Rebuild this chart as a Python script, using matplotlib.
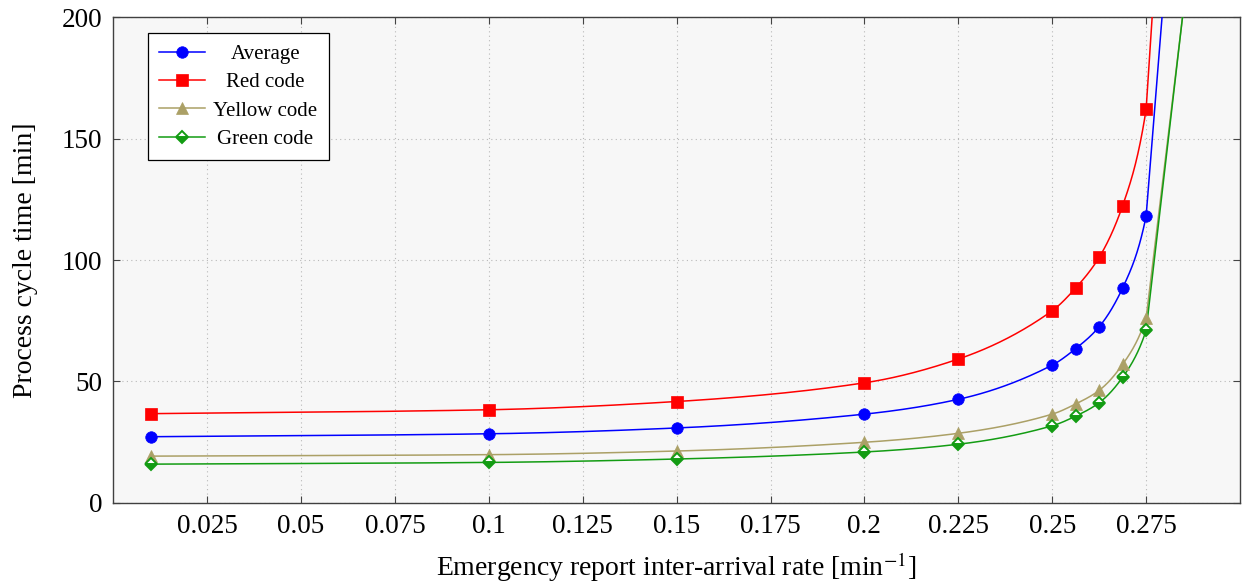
import numpy as np
import matplotlib
matplotlib.use("Agg")
import matplotlib.pyplot as plt
from matplotlib.lines import Line2D

# ---- data ----
x = [0.01, 0.1, 0.15, 0.2, 0.225, 0.25, 0.25625, 0.2625, 0.26875, 0.275]
average = [27.2, 28.4, 30.8, 36.5, 42.6, 56.7, 63.5, 72.5, 88.5, 118.1]
red_code = [36.7, 38.3, 41.7, 49.4, 59.2, 79.1, 88.5, 101.1, 122.4, 162.1]
yellow_code = [19.2, 19.8, 21.3, 24.9, 28.6, 36.5, 40.7, 46.3, 57.0, 76.0]
green_code = [15.9, 16.6, 18.0, 20.9, 24.1, 31.7, 35.7, 41.2, 51.7, 71.0]
# next points, beyond the visible range (clipped)
x_extra_avg, avg_extra = 0.28125, 239.0
x_extra_red, red_extra = 0.28125, 310.0
x_extra_yel, yel_extra = 0.2875, 236.0
x_extra_grn, grn_extra = 0.2875, 237.5

labels = ["Average", "Red code", "Yellow code", "Green code"]
xticks = [0.025, 0.05, 0.075, 0.1, 0.125, 0.15, 0.175, 0.2, 0.225, 0.25, 0.275]
xtick_labels = ["0.025", "0.05", "0.075", "0.1", "0.125", "0.15", "0.175", "0.2", "0.225", "0.25", "0.275"]
yticks = [0, 50, 100, 150, 200]

plt.rcParams['font.family'] = ['Liberation Serif', 'DejaVu Serif']
plt.rcParams['mathtext.fontset'] = 'stix'


def smooth(xs, ys, n=60):
    """Monotone cubic Hermite curve through the points; last segment straight."""
    xs = np.asarray(xs, float)
    ys = np.asarray(ys, float)
    h = np.diff(xs)
    d = np.diff(ys) / h
    m = np.zeros_like(ys)
    for i in range(1, len(xs) - 1):
        if d[i - 1] * d[i] > 0:
            w1 = 2 * h[i] + h[i - 1]
            w2 = h[i] + 2 * h[i - 1]
            m[i] = (w1 + w2) / (w1 / d[i - 1] + w2 / d[i])
    m[0] = d[0]
    m[-1] = d[-1]
    px, py = [xs[0]], [ys[0]]
    for i in range(len(xs) - 2):
        t = np.linspace(0, 1, n)[1:]
        h00 = 2 * t ** 3 - 3 * t ** 2 + 1
        h10 = t ** 3 - 2 * t ** 2 + t
        h01 = -2 * t ** 3 + 3 * t ** 2
        h11 = t ** 3 - t ** 2
        px.extend(xs[i] + t * h[i])
        py.extend(h00 * ys[i] + h10 * h[i] * m[i] + h01 * ys[i + 1] + h11 * h[i] * m[i + 1])
    px.append(xs[-1])
    py.append(ys[-1])
    return np.array(px), np.array(py)


fig = plt.figure(figsize=(12.42, 5.86), dpi=100)
ax = fig.add_axes([0.0912, 0.1421, 0.9072, 0.8284])
ax.set_facecolor('#f7f7f7')

series = [
    (average, x_extra_avg, avg_extra, dict(color='#0000ff', marker='o', ms=8.3)),
    (red_code, x_extra_red, red_extra, dict(color='#ff0000', marker='s', ms=8.6)),
    (yellow_code, x_extra_yel, yel_extra, dict(color='#aba066', marker='^', ms=8.6)),
    (green_code, x_extra_grn, grn_extra, dict(color='#139c13', marker='D', ms=6.6)),
]

handles = []
for (vals, xe, ve, st), lab in zip(series, labels):
    xs = list(x) + [xe]
    ys = list(vals) + [ve]
    sx, sy = smooth(xs, ys)
    ax.plot(sx, sy, color=st['color'], lw=1.1, zorder=3)
    if st['marker'] == 'D':
        mk = dict(marker='D', ms=st['ms'], mfc=st['color'], mfcalt='white', fillstyle='bottom',
                  mec=st['color'], mew=1.4)
    else:
        mk = dict(marker=st['marker'], ms=st['ms'], mfc=st['color'], mec=st['color'], mew=0.5)
    ax.plot(xs, ys, ls='none', zorder=4, **mk)
    handles.append(Line2D([0], [0], color=st['color'], lw=1.1, **mk))

ax.set_xlim(0, 0.3)
ax.set_ylim(0, 200)
ax.set_xticks(xticks)
ax.set_xticklabels(xtick_labels)
ax.set_yticks(yticks)
ax.grid(True, color='#b8b8b8', ls=(0, (1, 3)), lw=0.8)
ax.tick_params(axis='both', direction='in', length=5, width=0.8, color='#444444',
               top=True, right=True, labelsize=19.5, pad=8)
for s in ax.spines.values():
    s.set_color('#404040')
    s.set_linewidth(1.0)

ax.set_xlabel('Emergency report inter-arrival rate [min$^{-1}$]', fontsize=20, labelpad=8)
ax.set_ylabel('Process cycle time [min]', fontsize=20)
ax.yaxis.set_label_coords(-0.067, 0.5)

leg = ax.legend(handles, labels, loc='upper left', bbox_to_anchor=(0.0305, 0.968),
                borderaxespad=0, fancybox=False, framealpha=1, edgecolor='black',
                fontsize=15, handlelength=2.2, labelspacing=0.42, handletextpad=0.4,
                borderpad=0.55)
leg.get_frame().set_linewidth(0.9)
leg.set_zorder(10)

# centre the legend entries within the text column (as in the original)
renderer = fig.canvas.get_renderer()
texts = leg.get_texts()
widths = [t.get_window_extent(renderer).width for t in texts]
wmax = max(widths)
for t, w in zip(texts, widths):
    t.set_x((wmax - w) / 2.0)

fig.savefig('out.png', dpi=100)
